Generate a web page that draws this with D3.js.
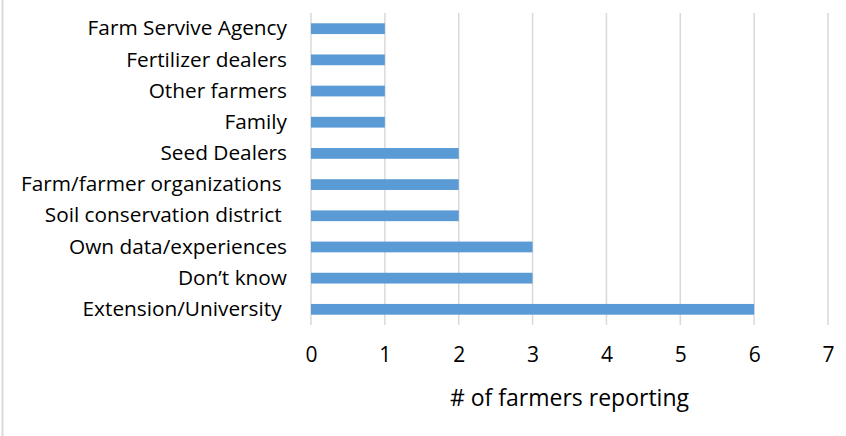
<!DOCTYPE html>
<html>
<head>
<meta charset="utf-8">
<script src="https://cdn.jsdelivr.net/npm/d3@7"></script>
<style>
  html, body { margin: 0; padding: 0; background: #fff; }
  svg text { font-family: "Open Sans", "Liberation Sans", sans-serif; fill: #000; white-space: pre; }
</style>
</head>
<body>
<svg id="chart" width="846" height="436"></svg>
<script>
// Information sources named by farmers (top to bottom)
const categories = [
  "Farm Servive Agency",
  "Fertilizer dealers",
  "Other farmers",
  "Family",
  "Seed Dealers",
  "Farm/farmer organizations ",
  "Soil conservation district ",
  "Own data/experiences",
  "Don\u2019t know",
  "Extension/University "
];
const counts = [1, 1, 1, 1, 2, 2, 2, 3, 3, 6];
const xTicks = [0, 1, 2, 3, 4, 5, 6, 7];
const xTitle = "# of farmers reporting";

const svg = d3.select("#chart");
const W = 846, H = 436;
const plot = { left: 311, right: 828, top: 13, bottom: 325 };

// Chart-area outline (only the left edge shows inside the frame)
svg.append("line")
  .attr("x1", 2.5).attr("x2", 2.5).attr("y1", 0).attr("y2", H)
  .attr("stroke", "#d9d9d9").attr("stroke-width", 2);

const x = d3.scaleLinear().domain([0, 7]).range([plot.left, plot.right]);
const y = d3.scaleBand().domain(categories).range([plot.top, plot.bottom]).paddingInner(0.655).paddingOuter(0.33);

// Vertical gridlines
svg.append("g")
  .selectAll("line")
  .data(xTicks)
  .join("line")
  .attr("x1", d => x(d)).attr("x2", d => x(d))
  .attr("y1", plot.top).attr("y2", plot.bottom)
  .attr("stroke", "#d9d9d9").attr("stroke-width", 1.5);

// Bars
svg.append("g")
  .selectAll("rect")
  .data(categories.map((c, i) => ({ c, v: counts[i] })))
  .join("rect")
  .attr("x", x(0))
  .attr("y", d => y(d.c))
  .attr("width", d => x(d.v) - x(0))
  .attr("height", y.bandwidth())
  .attr("fill", "#5b9bd5");

// Category labels
const yAxis = d3.axisLeft(y).tickSize(0).tickPadding(0);
const gy = svg.append("g").attr("transform", `translate(${plot.left - 24},0)`).call(yAxis);
gy.select(".domain").remove();
gy.selectAll("text")
  .attr("font-size", 20.8)
  .style("font-family", '"Open Sans", "Liberation Sans", sans-serif')
  .attr("fill", "#000");

// X tick labels
const xAxis = d3.axisBottom(x).tickValues(xTicks).tickFormat(d3.format("d")).tickSize(0).tickPadding(0);
const gx = svg.append("g").attr("transform", `translate(0,${plot.bottom + 22})`).call(xAxis);
gx.select(".domain").remove();
gx.selectAll("text")
  .attr("font-size", 21)
  .style("font-family", '"Open Sans", "Liberation Sans", sans-serif')
  .attr("fill", "#000");

// Axis title
svg.append("text")
  .attr("x", (plot.left + plot.right) / 2)
  .attr("y", 406)
  .attr("text-anchor", "middle")
  .attr("font-size", 23)
  .text(xTitle);
</script>
</body>
</html>
